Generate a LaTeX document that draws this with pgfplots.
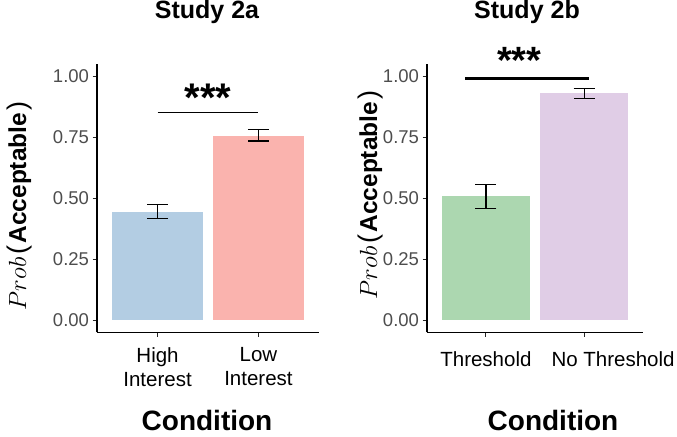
\documentclass[border=0pt]{standalone}
\usepackage{pgfplots}
\pgfplotsset{compat=1.18}
\usepackage{fontspec}
\setmainfont{Liberation Sans}
\definecolor{blueBar}{HTML}{B3CDE3}
\definecolor{pinkBar}{HTML}{FAB3AE}
\definecolor{greenBar}{HTML}{ACD7B0}
\definecolor{purpleBar}{HTML}{E0CDE6}
\definecolor{tickgray}{HTML}{4D4D4D}
\pgfplotsset{
  panel/.style={
    scale only axis, height=268.4bp,
    xmin=0.4, xmax=2.6, ymin=-0.05, ymax=1.05,
    axis x line*=bottom, axis y line*=left,
    axis line style={line width=1.1bp, black},
    tick align=outside, major tick length=4.5bp,
    tick style={line width=1bp, black!85},
    ytick={0,0.25,0.5,0.75,1},
    xtick={1,2},
    /pgf/number format/.cd, fixed, fixed zerofill, precision=2, assume math mode=true,
    /pgfplots/.cd,
    yticklabel style={font=\fontsize{18.5bp}{20bp}\selectfont, text=tickgray},
    xticklabel style={font=\fontsize{20.5bp}{24bp}\selectfont, align=center, text=black},
    clip=false,
  },
  errb/.style={
    error bars/.cd, y dir=both, y explicit, error mark=|,
    error bar style={line width=1.2bp, black},
    error mark options={line width=1.2bp, black, mark size=10.5bp},
  },
}
\newcommand{\ylab}{{\fontsize{30bp}{30bp}\selectfont$Prob$}\hspace{3bp}{\fontsize{27bp}{27bp}\selectfont(}\hspace{2bp}\textbf{Acceptable}\hspace{2bp}{\fontsize{27bp}{27bp}\selectfont)}}
\begin{document}
\begin{tikzpicture}[x=1bp,y=1bp]
\useasboundingbox (0,0) rectangle (677,437);
% ---------- Study 2a ----------
\begin{axis}[panel, at={(97bp,104.5bp)}, anchor=south west, width=222bp,
  xticklabels={High\\Interest, Low\\Interest},
  xticklabel style={yshift=-7bp}]
\addplot[ybar, bar width=0.9, bar shift=0pt, fill=blueBar, draw=none, errb]
  coordinates {(1,0.445) += (0,0.030) -= (0,0.027)};
\addplot[ybar, bar width=0.9, bar shift=0pt, fill=pinkBar, draw=none, errb]
  coordinates {(2,0.757) += (0,0.026) -= (0,0.022)};
\addplot[black, line width=1bp, mark=none] coordinates {(1,0.851) (2,0.851)};
\node[anchor=base, font=\fontsize{40bp}{40bp}\selectfont\bfseries, inner sep=0pt]
  at (axis cs:1.5,0.856) {***};
\end{axis}
% ---------- Study 2b ----------
\begin{axis}[panel, at={(427bp,104.5bp)}, anchor=south west, width=216bp,
  xticklabels={Threshold, \hspace*{58bp}No Threshold},
  xticklabel style={yshift=-11bp}]
\addplot[ybar, bar width=0.9, bar shift=0pt, fill=greenBar, draw=none, errb]
  coordinates {(1,0.508) += (0,0.048) -= (0,0.049)};
\addplot[ybar, bar width=0.9, bar shift=0pt, fill=purpleBar, draw=none, errb]
  coordinates {(2,0.930) += (0,0.021) -= (0,0.021)};
\addplot[black, line width=2.8bp, mark=none] coordinates {(0.79,0.99) (2.05,0.99)};
\node[anchor=base, font=\fontsize{38bp}{38bp}\selectfont\bfseries, inner sep=0pt]
  at (axis cs:1.34,1.010) {***};
\end{axis}
% ---------- titles and axis labels ----------
\node[anchor=base, font=\fontsize{25bp}{25bp}\selectfont\bfseries, inner sep=0pt] at (207,418) {Study 2a};
\node[anchor=base, font=\fontsize{25bp}{25bp}\selectfont\bfseries, inner sep=0pt] at (527,418) {Study 2b};
\node[anchor=base, font=\fontsize{28bp}{28bp}\selectfont\bfseries, inner sep=0pt] at (207,6) {Condition};
\node[anchor=base, font=\fontsize{28bp}{28bp}\selectfont\bfseries, inner sep=0pt] at (553,6) {Condition};
\node[rotate=90, anchor=base, font=\fontsize{24.5bp}{24.5bp}\selectfont, inner sep=0pt] at (26,231) {\ylab};
\node[rotate=90, anchor=base, font=\fontsize{24.5bp}{24.5bp}\selectfont, inner sep=0pt] at (377,242) {\ylab};
\end{tikzpicture}
\end{document}
